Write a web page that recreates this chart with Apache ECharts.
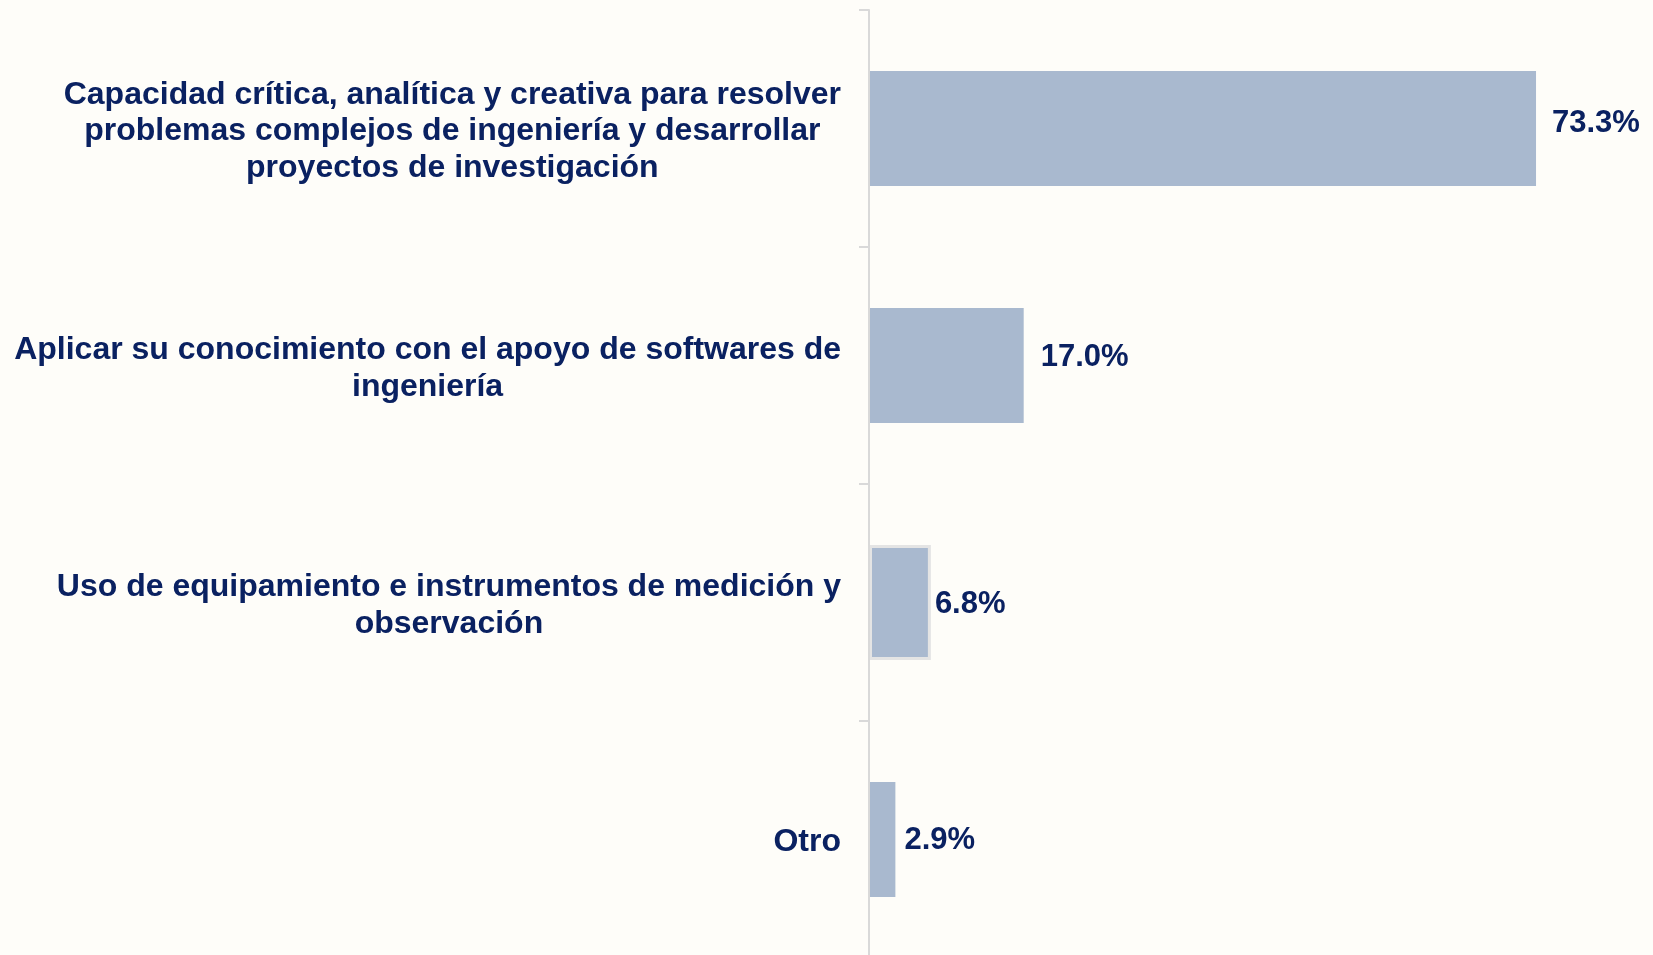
<!DOCTYPE html>
<html>
<head>
<meta charset="utf-8">
<script src="https://cdn.jsdelivr.net/npm/echarts@6/dist/echarts.min.js"></script>
<style>
  * { margin: 0; padding: 0; }
  html, body { background: #fefdf9; }
  #main { width: 1653px; height: 955px; }
</style>
</head>
<body>
<div id="main"></div>
<script>
// datos del gráfico
var categories = [
  'Capacidad crítica, analítica y creativa para resolver\nproblemas complejos de ingeniería y desarrollar\nproyectos de investigación',
  'Aplicar su conocimiento con el apoyo de softwares de\ningeniería',
  'Uso de equipamiento e instrumentos de medición y\nobservación',
  'Otro'
]
var values = [73.3, 17.0, 6.8, 2.9]
var valueLabels = ['73.3%', '17.0%', '6.8%', '2.9%']

var textColor = '#0a2161'
var labelDist = [16, 17, 4, 9]
var labelOffY = [-5, -8, 2, 1]

var myChart = echarts.init(document.getElementById('main'))

var seriesData = values.map(function (v, i) {
  var item = {
    value: v,
    label: {
      distance: labelDist[i],
      offset: [0, labelOffY[i]],
      formatter: valueLabels[i]
    }
  }
  // la tercera barra tiene borde gris claro
  if (i === 2) {
    item.itemStyle = { borderColor: '#e4e4e4', borderWidth: 3 }
  }
  return item
})

var option = {
  backgroundColor: '#fefdf9',
  animation: false,
  grid: { left: 869, top: 10, right: 56, bottom: -3, outerBoundsMode: 'none' },
  xAxis: {
    type: 'value',
    min: 0,
    max: 80,
    show: false
  },
  yAxis: {
    type: 'category',
    inverse: true,
    data: categories,
    z: 5,
    axisLine: { show: true, lineStyle: { color: '#d9d9d9', width: 2 } },
    axisTick: { show: true, length: 10, lineStyle: { color: '#d9d9d9', width: 2 } },
    axisLabel: {
      margin: 28,
      padding: [6, 0, 0, 0],
      formatter: function (val) {
        return val.split('\n').map(function (l) { return '{c|' + l + '}' }).join('\n')
      },
      rich: {
        c: {
          align: 'center',
          color: textColor,
          fontFamily: 'Liberation Sans, Arial, sans-serif',
          fontWeight: 'bold',
          fontSize: 32,
          lineHeight: 36.5
        }
      }
    }
  },
  series: [{
    type: 'bar',
    data: seriesData,
    barWidth: '48.5%',
    itemStyle: { color: '#a9b9cf' },
    label: {
      show: true,
      position: 'right',
      color: textColor,
      fontFamily: 'Liberation Sans, Arial, sans-serif',
      fontWeight: 'bold',
      fontSize: 31
    }
  }]
}
myChart.setOption(option)
</script>
</body>
</html>
